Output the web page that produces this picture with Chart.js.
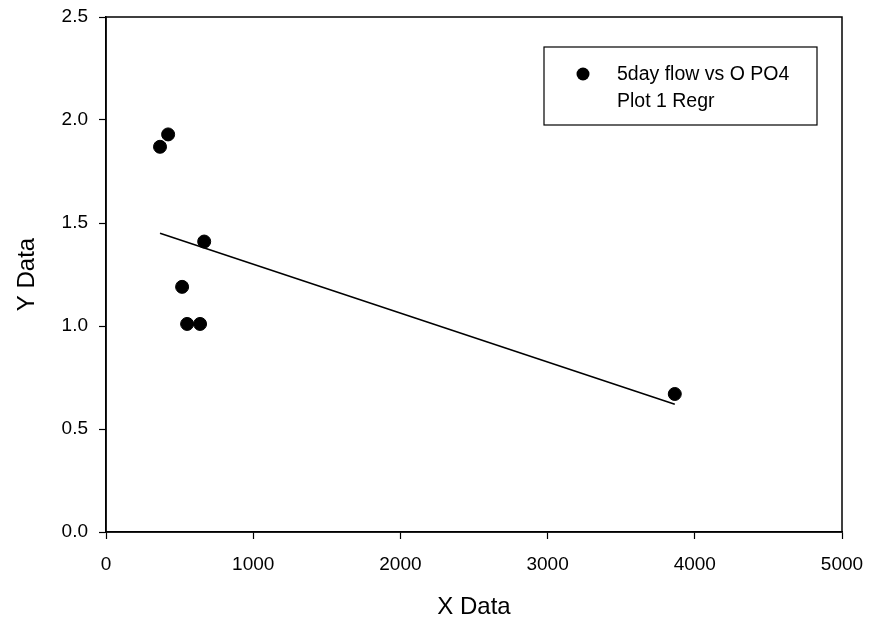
<!DOCTYPE html>
<html>
<head>
<meta charset="utf-8">
<script src="https://cdn.jsdelivr.net/npm/chart.js@4"></script>
<style>
  html, body { margin: 0; padding: 0; background: #fff; }
  #wrap { width: 871px; height: 620px; }
</style>
</head>
<body>
<div id="wrap"><canvas id="grafico"></canvas></div>
<script>
// scatter: 5day flow vs O PO4
const flowX = [367, 422, 517, 551, 639, 667, 3864];
const po4Y = [1.87, 1.93, 1.19, 1.01, 1.01, 1.41, 0.67];
// regression line end points
const regrX = [367, 3864];
const regrY = [1.45, 0.62];
const xTicks = [0, 1000, 2000, 3000, 4000, 5000];
const yTicks = [0, 0.5, 1.0, 1.5, 2.0, 2.5];
const legendLabels = ['5day flow vs O PO4', 'Plot 1 Regr'];

const fonte = 'Arial, "Liberation Sans", sans-serif';

// moldura do gráfico + legenda
const caixaPlugin = {
  id: 'caixa',
  afterDraw(chart) {
    const ctx = chart.ctx;
    const a = chart.chartArea;
    ctx.save();
    ctx.strokeStyle = '#000';
    ctx.lineWidth = 1.5;
    ctx.strokeRect(a.left, a.top, a.right - a.left, a.bottom - a.top);

    // legenda
    const lx = 544, ly = 47, lw = 273, lh = 78;
    ctx.fillStyle = '#fff';
    ctx.fillRect(lx, ly, lw, lh);
    ctx.lineWidth = 1.2;
    ctx.strokeRect(lx, ly, lw, lh);
    ctx.fillStyle = '#000';
    ctx.beginPath();
    ctx.arc(583, 74, 6.5, 0, Math.PI * 2);
    ctx.fill();
    ctx.font = '19.5px ' + fonte;
    ctx.textBaseline = 'middle';
    ctx.textAlign = 'left';
    ctx.fillText(legendLabels[0], 617, 75);
    ctx.fillText(legendLabels[1], 617, 102);
    ctx.restore();
  }
};

let grafico;
function inicializarGrafico() {
  const ctx = document.getElementById('grafico').getContext('2d');
  grafico = new Chart(ctx, {
    type: 'scatter',
    data: {
      datasets: [{
        label: legendLabels[0],
        data: flowX.map((x, i) => ({ x, y: po4Y[i] })),
        backgroundColor: '#000',
        borderColor: '#000',
        pointRadius: 6.5,
        pointHoverRadius: 6.5
      }, {
        type: 'line',
        label: legendLabels[1],
        data: regrX.map((x, i) => ({ x, y: regrY[i] })),
        borderColor: '#000',
        borderWidth: 1.5,
        pointRadius: 0,
        fill: false
      }]
    },
    options: {
      responsive: true,
      maintainAspectRatio: false,
      animation: false,
      layout: { padding: { top: 17, right: 29, left: 0, bottom: 0 } },
      plugins: {
        legend: { display: false },
        tooltip: { enabled: false }
      },
      scales: {
        x: {
          type: 'linear',
          min: 0,
          max: 5000,
          afterFit: s => { s.height = 88; s.paddingLeft = 0; s.paddingRight = 0; },
          afterBuildTicks: s => { s.ticks = xTicks.map(v => ({ value: v })); },
          border: { display: true, color: '#000', width: 1.5 },
          grid: { drawOnChartArea: false, drawTicks: true, tickLength: 7, color: '#000', tickColor: '#000', tickWidth: 1.2 },
          ticks: {
            color: '#000',
            font: { family: fonte, size: 19 },
            padding: 14,
            maxRotation: 0,
            callback: v => String(v)
          },
          title: {
            display: true,
            text: 'X Data',
            color: '#000',
            font: { family: fonte, size: 24 },
            padding: { top: 0, bottom: -2 }
          }
        },
        y: {
          type: 'linear',
          min: 0,
          max: 2.5,
          afterFit: s => { s.width = 106; s.paddingTop = 0; s.paddingBottom = 0; },
          afterBuildTicks: s => { s.ticks = yTicks.map(v => ({ value: v })); },
          border: { display: true, color: '#000', width: 1.5 },
          grid: { drawOnChartArea: false, drawTicks: true, tickLength: 7, color: '#000', tickColor: '#000', tickWidth: 1.2 },
          ticks: {
            color: '#000',
            font: { family: fonte, size: 19 },
            padding: 11,
            callback: v => v.toFixed(1)
          },
          title: {
            display: true,
            text: 'Y Data',
            color: '#000',
            font: { family: fonte, size: 24 },
            padding: { top: 13, bottom: 0 }
          }
        }
      }
    },
    plugins: [caixaPlugin]
  });
}

window.onload = () => {
  inicializarGrafico();
};
</script>
</body>
</html>
